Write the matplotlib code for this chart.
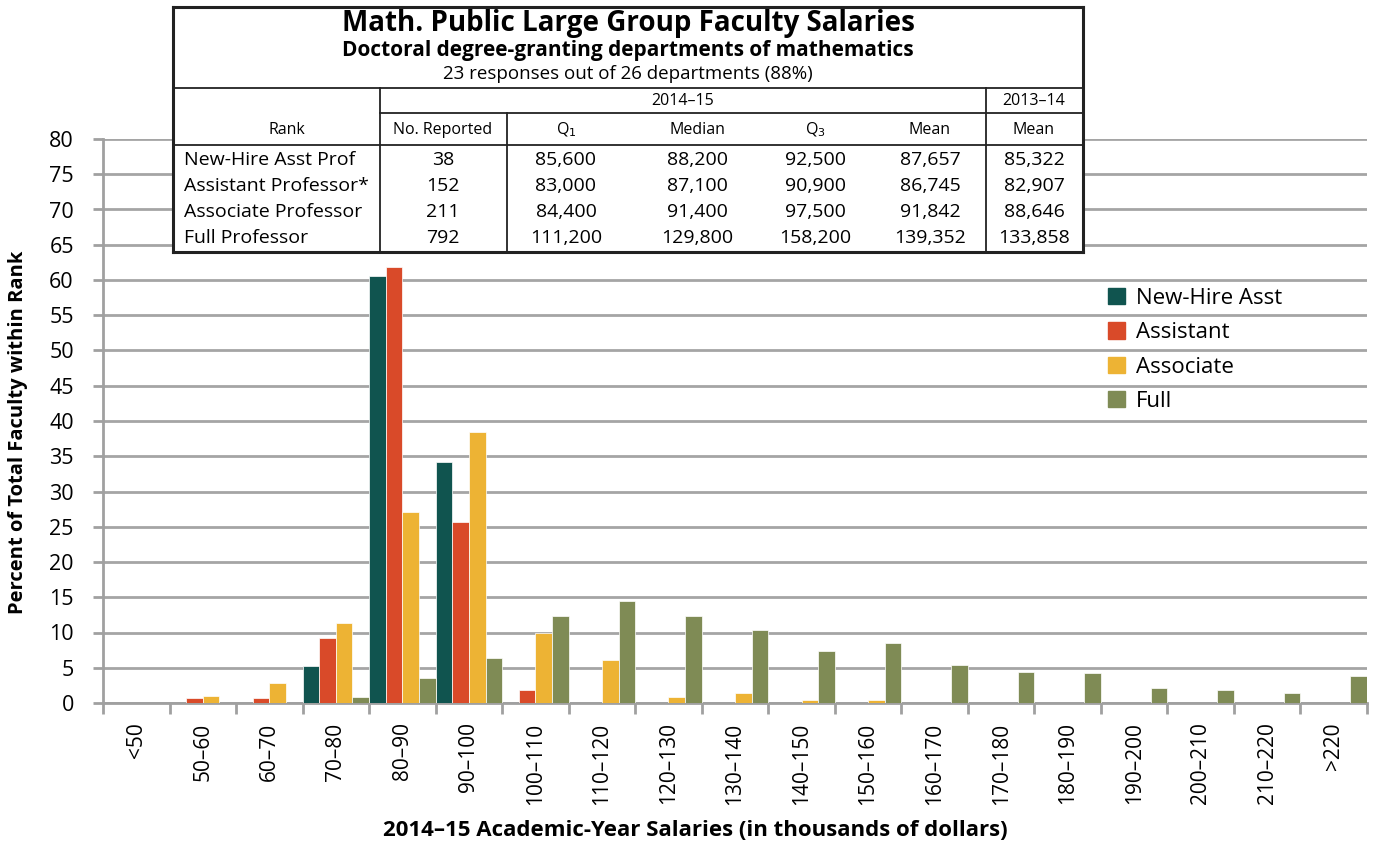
import numpy as np
import matplotlib
matplotlib.use("Agg")
from matplotlib import pyplot as plt
from matplotlib.patches import Patch

plt.rcParams['font.family'] = ['Open Sans', 'DejaVu Sans']

# 数据
categories = ['<50', '50–60', '60–70', '70–80', '80–90', '90–100', '100–110', '110–120',
              '120–130', '130–140', '140–150', '150–160', '160–170', '170–180', '180–190',
              '190–200', '200–210', '210–220', '>220']
new_hire = [0, 0, 0, 5.2, 60.5, 34.2, 0, 0, 0, 0, 0, 0, 0, 0, 0, 0, 0, 0, 0]
assistant = [0, 0.7, 0.7, 9.2, 61.9, 25.7, 1.9, 0, 0, 0, 0, 0, 0, 0, 0, 0, 0, 0, 0]
associate = [0, 1.0, 2.8, 11.4, 27.1, 38.4, 10.0, 6.1, 0.9, 1.4, 0.4, 0.4, 0, 0, 0, 0, 0, 0, 0]
full = [0, 0, 0, 0.8, 3.6, 6.4, 12.3, 14.4, 12.3, 10.3, 7.4, 8.5, 5.4, 4.4, 4.3, 2.1, 1.9, 1.4, 3.9]

series_names = ['New-Hire Asst', 'Assistant', 'Associate', 'Full']
colors = ['#10544f', '#d94a29', '#edb334', '#7f8b55']

# 表格数据
table_title = 'Math. Public Large Group Faculty Salaries'
table_sub = 'Doctoral degree-granting departments of mathematics'
table_resp = '23 responses out of 26 departments (88%)'
ranks = ['New-Hire Asst Prof', 'Assistant Professor*', 'Associate Professor', 'Full Professor']
n_reported = ['38', '152', '211', '792']
q1 = ['85,600', '83,000', '84,400', '111,200']
median = ['88,200', '87,100', '91,400', '129,800']
q3 = ['92,500', '90,900', '97,500', '158,200']
mean_1415 = ['87,657', '86,745', '91,842', '139,352']
mean_1314 = ['85,322', '82,907', '88,646', '133,858']

W, H = 1375, 842
fig = plt.figure(figsize=(W / 100, H / 100), dpi=100)

# 主图
ax = fig.add_axes([103 / W, 1 - 703 / H, (1367 - 103) / W, (703 - 139) / H])
x = np.arange(len(categories))
bw = 0.25
for k, (vals, c, name) in enumerate(zip([new_hire, assistant, associate, full], colors, series_names)):
    ax.bar(x - 0.375 + k * bw, vals, width=bw, color=c, edgecolor='white', linewidth=0.5,
           label=name, zorder=3)

ax.set_xlim(-0.5, len(categories) - 0.5)
ax.set_ylim(0, 80)
ax.set_yticks(np.arange(0, 81, 5))
ax.tick_params(axis='y', labelsize=15.5, length=7, color='#a0a0a0', width=2, pad=14)
ax.yaxis.grid(True, color='#a5a5a5', linewidth=2, zorder=0)
ax.set_xticks(np.arange(-0.5, len(categories), 1), minor=False)
ax.set_xticklabels([])
ax.set_xticks(x, minor=True)
ax.set_xticklabels(categories, minor=True, rotation=90, fontsize=15)
ax.tick_params(axis='x', which='major', length=8, color='#a0a0a0', width=2)
ax.tick_params(axis='x', which='minor', length=0, pad=14)
for s in ['top', 'right']:
    ax.spines[s].set_visible(False)
for s in ['left', 'bottom']:
    ax.spines[s].set_color('#a0a0a0')
    ax.spines[s].set_linewidth(2)
ax.set_ylabel('Percent of Total Faculty within Rank', fontsize=14.5, fontweight='bold')
ax.yaxis.set_label_coords(-75 / (1367 - 103), 0.48)
fig.text(695 / W, 1 - 830 / H, '2014–15 Academic-Year Salaries (in thousands of dollars)',
         fontsize=16, fontweight='bold', ha='center', va='center')

handles = [Patch(color=c) for c in colors]
ax.legend(handles, series_names, loc='upper left', bbox_to_anchor=(1088 / W, 1 - 268 / H),
          bbox_transform=fig.transFigure, frameon=False, fontsize=16, handlelength=0.75,
          handleheight=0.75, handletextpad=0.5, labelspacing=0.6)

# 表格
tx = fig.add_axes([173 / W, 1 - 252 / H, (1083 - 173) / W, (252 - 7) / H])
tx.set_xlim(173, 1083)
tx.set_ylim(252, 7)
tx.set_xticks([])
tx.set_yticks([])
tx.set_facecolor('white')
for s in tx.spines.values():
    s.set_linewidth(2.2)
    s.set_color('#222222')
lk = dict(color='#222222', linewidth=1.3)
tx.plot([173, 1083], [88, 88], **lk)
tx.plot([173, 1083], [145, 145], **lk)
tx.plot([380, 1083], [113, 113], **lk)
for xv in [380, 986]:
    tx.plot([xv, xv], [88, 252], **lk)
tx.plot([507, 507], [113, 252], **lk)

tx.text(628, 24, table_title, fontsize=20, fontweight='bold', ha='center', va='center')
tx.text(628, 51, table_sub, fontsize=15, fontweight='bold', ha='center', va='center')
tx.text(628, 74, table_resp, fontsize=13.5, ha='center', va='center')
tx.text(683, 101, '2014–15', fontsize=11.5, ha='center', va='center')
tx.text(1034, 101, '2013–14', fontsize=11.5, ha='center', va='center')
col_x = [287, 443, 566, 697, 815, 930, 1034]
headers = ['Rank', 'No. Reported', 'Q$_1$', 'Median', 'Q$_3$', 'Mean', 'Mean']
for cx, h in zip(col_x, headers):
    tx.text(cx, 130, h, fontsize=11.5, ha='center', va='center')
row_y = [160, 186, 212, 238]
for i, y in enumerate(row_y):
    tx.text(184, y, ranks[i], fontsize=14, ha='left', va='center')
    cols = [n_reported, q1, median, q3, mean_1415, mean_1314]
    for cx, col in zip(col_x[1:], cols):
        tx.text(cx, y, col[i], fontsize=14, ha='center', va='center')

fig.savefig('out.png', dpi=100)
